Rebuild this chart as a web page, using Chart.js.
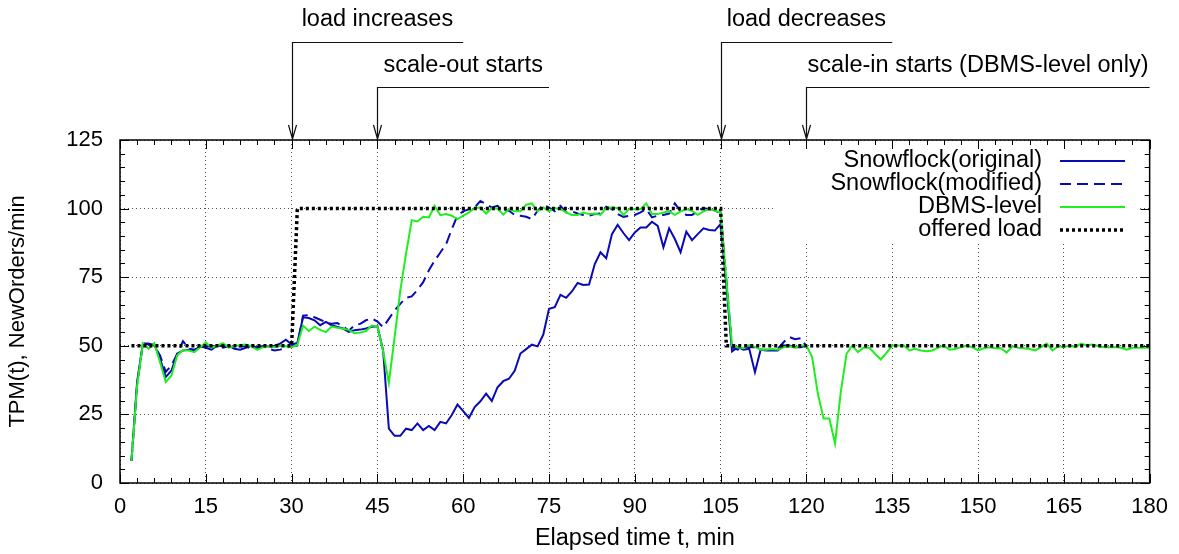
<!DOCTYPE html>
<html>
<head>
<meta charset="utf-8">
<script src="https://cdn.jsdelivr.net/npm/chart.js@4.4.1/dist/chart.umd.min.js"></script>
<style>
html, body { margin: 0; padding: 0; background: #fff; }
#wrap { width: 1179px; height: 554px; }
</style>
</head>
<body>
<div id="wrap"><canvas id="grafica"></canvas></div>
<script>
// minutos (eje x)
const minutes = [
    2, 3, 4, 5, 6, 7, 8, 9, 10, 11,
    12, 13, 14, 15, 16, 17, 18, 19, 20, 21,
    22, 23, 24, 25, 26, 27, 28, 29, 30, 31,
    32, 33, 34, 35, 36, 37, 38, 39, 40, 41,
    42, 43, 44, 45, 46, 47, 48, 49, 50, 51,
    52, 53, 54, 55, 56, 57, 58, 59, 60, 61,
    62, 63, 64, 65, 66, 67, 68, 69, 70, 71,
    72, 73, 74, 75, 76, 77, 78, 79, 80, 81,
    82, 83, 84, 85, 86, 87, 88, 89, 90, 91,
    92, 93, 94, 95, 96, 97, 98, 99, 100, 101,
    102, 103, 104, 105, 106, 107, 108, 109, 110, 111,
    112, 113, 114, 115, 116, 117, 118, 119, 120, 121,
    122, 123, 124, 125, 126, 127, 128, 129, 130, 131,
    132, 133, 134, 135, 136, 137, 138, 139, 140, 141,
    142, 143, 144, 145, 146, 147, 148, 149, 150, 151,
    152, 153, 154, 155, 156, 157, 158, 159, 160, 161,
    162, 163, 164, 165, 166, 167, 168, 169, 170, 171,
    172, 173, 174, 175, 176, 177, 178, 179, 180
];

// Snowflock(original), t = 2..120
const snowOriginal = [
    8, 37, 50.8, 50.5, 50.5, 45.3, 38.6, 41, 47.1, 48.3,
    48.6, 48.3, 49.8, 49.3, 48.6, 50.1, 49.8, 50.1, 48.9, 48.6,
    49.3, 50.1, 49.3, 49.8, 49.8, 50, 50.8, 52.2, 50.5, 51,
    60.4, 60.1, 59.3, 57.5, 58.7, 57.5, 56.9, 56.3, 55.1, 55.7,
    55.9, 56.3, 56.9, 57.1, 48.3, 19.8, 17.2, 17.2, 19.8, 19.3,
    21.7, 19.3, 20.8, 19.3, 22.3, 21.7, 24.8, 28.6, 26.2, 23.7,
    27.7, 29.8, 32.6, 29.9, 34.9, 37.1, 38, 40.9, 47.2, 48.8,
    50.4, 49.8, 54.1, 63.5, 64.1, 68.6, 67.5, 69.8, 72.9, 72.2,
    72.3, 79.8, 84.1, 81.9, 90.7, 94.1, 91.1, 88.5, 91.3, 93.1,
    93.1, 95.2, 93.7, 85.9, 92.8, 88.9, 84.1, 91.6, 88.5, 90.7,
    92.8, 92.2, 92, 94.4, 72, 48, 49.5, 48.6, 48.9, 40.4,
    48.6, 48.3, 48.3, 48.3, 50.1, 50.1, 49.5, 49.5, 50.1
];

// Snowflock(modified), t = 2..120
const snowModified = [
    8, 36, 50.8, 50.8, 50.1, 46.5, 40.5, 42.9, 47, 51.7,
    49, 48.6, 49.5, 49.8, 49.8, 50.1, 49.3, 49.8, 49.3, 49.8,
    49.8, 48.9, 49.5, 49.8, 48.9, 48.3, 48.6, 49.3, 49.8, 50.1,
    61, 61.2, 60.4, 59.5, 58.6, 58, 58.3, 57.1, 55.5, 57.5,
    58, 59.3, 60, 58.8, 56.8, 59.8, 62.9, 65.3, 67.5, 68,
    70.4, 73.2, 77.5, 81, 84, 87, 92.5, 97.5, 99, 99.8,
    100.4, 102.8, 101.6, 100.4, 101, 99.8, 99.2, 97.7, 97.4, 97,
    96.2, 99.2, 101.4, 100.4, 99, 101, 98.6, 99, 98.2, 97.7,
    97.4, 98, 98.2, 100.7, 99.8, 98, 97, 97.4, 97.7, 98.6,
    99.8, 96.8, 97.4, 97.7, 98.2, 101.9, 99, 97.7, 97.7, 99,
    100.2, 99.8, 99, 98.6, 74, 49.5, 48.6, 49.5, 49.5, 49.5,
    48.6, 48.6, 48.6, 48.9, 51.3, 53.2, 52.4, 52.8, 49.8
];

// DBMS-level, t = 2..180
const dbmsLevel = [
    8, 35.6, 50.8, 48.9, 51, 44, 36.8, 39.2, 46.5, 48.5,
    48.3, 47.7, 49.5, 51.3, 49.3, 50.1, 51, 49.3, 49.8, 50.3,
    50.5, 49.8, 48.5, 49.5, 49.8, 49.5, 50, 49.8, 49.5, 50.3,
    57.4, 55.4, 57, 55.8, 55, 57, 56.6, 56.2, 55.8, 54.6,
    54.8, 55.4, 57.4, 57.1, 48, 36.5, 53, 70.1, 83.5, 95.8,
    95.3, 97, 96.8, 101, 97.6, 98, 97.4, 96.2, 97.4, 98.6,
    100.2, 100.4, 98.2, 100.2, 100, 97.8, 99.8, 99, 99, 101.4,
    101.9, 99, 100.4, 99, 100.2, 99.8, 98.6, 97.7, 97.7, 98.6,
    98, 98.2, 97.7, 100.2, 100.4, 100.2, 97.7, 99.8, 99.8, 99.8,
    101.9, 98, 98, 98.6, 99, 97.7, 99, 99.8, 99.2, 97.7,
    99, 99.8, 99.2, 98.6, 74, 50, 49.5, 49.1, 50.3, 49.6,
    48.6, 48.6, 48.8, 48.6, 49.5, 49.8, 49.3, 50.1, 50.1, 45.9,
    32.5, 23.5, 23.5, 14.4, 33, 47, 50.1, 47.7, 49.3, 49.3,
    47.1, 45, 47.4, 50.1, 50.1, 50.1, 48.3, 48.9, 48.3, 48,
    48.3, 49.3, 50.1, 48.6, 48.8, 49.5, 50.1, 49.5, 48.3, 49.1,
    49.5, 49.1, 49.1, 47.5, 49.8, 49.3, 49.1, 48.8, 48.3, 49.5,
    50.8, 48.3, 49.8, 49.5, 50.1, 49.5, 50.8, 50.1, 50.5, 49.9,
    49.5, 49.5, 49.6, 49.3, 48.6, 49.3, 49.3, 49.3, 49.3
];

// offered load (escalón)
const loadTimes = [2, 30, 31, 105, 106, 180];
const loadValues = [50, 50, 100, 100, 50, 50];

// anotaciones de arriba
const notaTextos = ['load increases', 'scale-out starts', 'load decreases', 'scale-in starts (DBMS-level only)'];
const notaEn = [30, 45, 105, 120];
const notaFin = [60, 75, 135, 180];
const notaCentro = [45, 60, 120, 150];
const notaFila = [0, 1, 0, 1];

const FONT = '"Liberation Sans", Arial, sans-serif';

function pts(ts, vs) {
    return vs.map((v, i) => ({ x: ts[i], y: v }));
}

const decor = {
    id: 'decor',
    beforeDatasetsDraw(chart) {
        // caja blanca de la leyenda (tapa la rejilla)
        const ctx = chart.ctx;
        ctx.save();
        ctx.fillStyle = '#fff';
        ctx.fillRect(773, 141, 366, 102);
        ctx.restore();
    },
    afterDatasetsDraw(chart) {
        const { ctx, chartArea: a, scales: { x, y } } = chart;
        ctx.save();

        // marco
        ctx.strokeStyle = '#000';
        ctx.lineWidth = 1.5;
        ctx.strokeRect(a.left, a.top, a.right - a.left, a.bottom - a.top);

        // ticks hacia dentro
        ctx.lineWidth = 1;
        ctx.beginPath();
        for (let v = 0; v <= 180; v += 3) {
            const px = Math.round(x.getPixelForValue(v)) + 0.5;
            const len = v % 15 === 0 ? 9 : 5;
            ctx.moveTo(px, a.bottom); ctx.lineTo(px, a.bottom - len);
            ctx.moveTo(px, a.top); ctx.lineTo(px, a.top + len);
        }
        for (let v = 0; v <= 125; v += 5) {
            const py = Math.round(y.getPixelForValue(v)) + 0.5;
            const len = v % 25 === 0 ? 9 : 5;
            ctx.moveTo(a.left, py); ctx.lineTo(a.left + len, py);
            ctx.moveTo(a.right, py); ctx.lineTo(a.right - len, py);
        }
        ctx.stroke();

        // leyenda
        ctx.font = '23.5px ' + FONT;
        ctx.textAlign = 'right';
        ctx.textBaseline = 'middle';
        ctx.fillStyle = '#000';
        const orden = [3, 2, 1, 0];
        orden.forEach((di, i) => {
            const ds = chart.data.datasets[di];
            const yy = 161 + i * 23;
            ctx.fillText(ds.label, 1042, yy);
            ctx.save();
            ctx.strokeStyle = ds.borderColor;
            ctx.lineWidth = ds.borderWidth;
            ctx.setLineDash(ds.borderDash || []);
            ctx.beginPath();
            ctx.moveTo(1060, yy);
            ctx.lineTo(1125, yy);
            ctx.stroke();
            ctx.restore();
        });

        // anotaciones con flecha
        ctx.textAlign = 'center';
        ctx.lineWidth = 1.2;
        ctx.strokeStyle = '#111';
        const textoY = [20, 66];
        const lineaY = [42, 87];
        notaTextos.forEach((txt, i) => {
            const px = Math.round(x.getPixelForValue(notaEn[i])) + 0.5;
            const pFin = x.getPixelForValue(notaFin[i]);
            const ly = lineaY[notaFila[i]] + 0.5;
            ctx.beginPath();
            ctx.moveTo(pFin, ly);
            ctx.lineTo(px, ly);
            ctx.lineTo(px, a.top - 1);
            ctx.moveTo(px - 4, a.top - 15);
            ctx.lineTo(px, a.top - 1);
            ctx.lineTo(px + 4, a.top - 15);
            ctx.stroke();
            ctx.fillText(txt, x.getPixelForValue(notaCentro[i]), textoY[notaFila[i]]);
        });

        ctx.restore();
    }
};

const ctx = document.getElementById('grafica').getContext('2d');

window.miGrafica = new Chart(ctx, {
    type: 'line',
    data: {
        datasets: [
            {
                label: 'offered load',
                data: pts(loadTimes, loadValues),
                borderColor: '#000',
                borderWidth: 3.5,
                borderDash: [3, 3]
            },
            {
                label: 'DBMS-level',
                data: pts(minutes, dbmsLevel),
                borderColor: '#1ef01e',
                borderWidth: 2
            },
            {
                label: 'Snowflock(modified)',
                data: pts(minutes, snowModified),
                borderColor: '#0a0ab4',
                borderWidth: 2,
                borderDash: [11, 6]
            },
            {
                label: 'Snowflock(original)',
                data: pts(minutes, snowOriginal),
                borderColor: '#0a0ab4',
                borderWidth: 2
            }
        ]
    },
    options: {
        responsive: true,
        maintainAspectRatio: false,
        animation: false,
        devicePixelRatio: 1,
        layout: { padding: { top: 140, right: 26, left: 0, bottom: 0 } },
        elements: {
            point: { radius: 0 },
            line: { tension: 0, fill: false }
        },
        plugins: {
            legend: { display: false },
            tooltip: { enabled: false }
        },
        scales: {
            x: {
                type: 'linear',
                min: 0,
                max: 180,
                afterFit: s => { s.height = 71; },
                ticks: {
                    stepSize: 15,
                    autoSkip: false,
                    maxRotation: 0,
                    padding: 11,
                    color: '#000',
                    font: { family: FONT, size: 22 }
                },
                grid: { color: 'rgba(0,0,0,0.7)', lineWidth: 1, drawTicks: false },
                border: { display: false, dash: [1, 3] },
                title: {
                    display: true,
                    text: 'Elapsed time t, min',
                    color: '#000',
                    font: { family: FONT, size: 23.5 },
                    padding: { top: 0, bottom: 1 }
                }
            },
            y: {
                min: 0,
                max: 125,
                afterFit: s => { s.width = 120; },
                ticks: {
                    stepSize: 25,
                    padding: 17,
                    color: '#000',
                    font: { family: FONT, size: 22 }
                },
                grid: { color: 'rgba(0,0,0,0.7)', lineWidth: 1, drawTicks: false },
                border: { display: false, dash: [1, 3] },
                title: {
                    display: true,
                    text: 'TPM(t), NewOrders/min',
                    color: '#000',
                    font: { family: FONT, size: 22 },
                    padding: { top: 5, bottom: 0 }
                }
            }
        }
    },
    plugins: [decor]
});
</script>
</body>
</html>
